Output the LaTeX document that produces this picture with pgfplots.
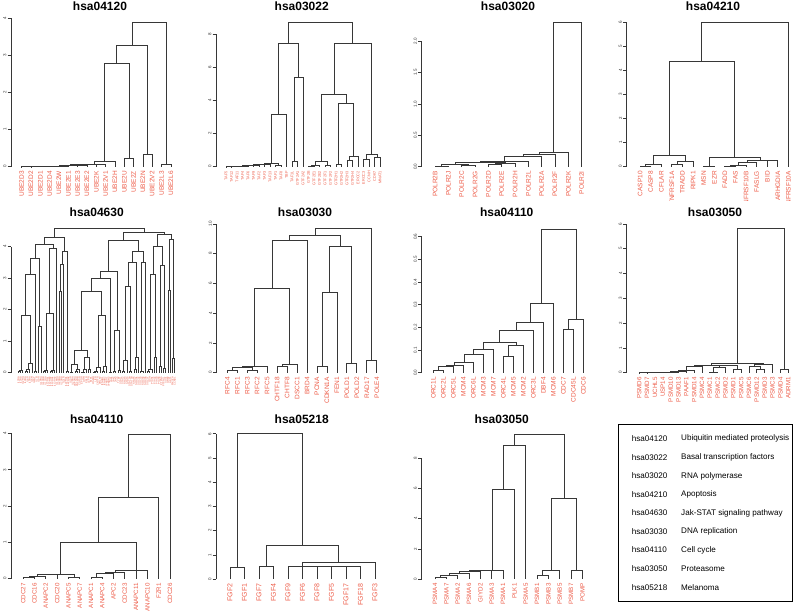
\documentclass[border=0pt]{standalone}
\usepackage{fontspec}
\setmainfont{Liberation Sans}
\usepackage{pgfplots}
\pgfplotsset{compat=1.18}
\definecolor{labred}{RGB}{238,92,72}
\definecolor{dgray}{RGB}{55,55,55}
\newcommand{\U}[5]{\addplot[dline] coordinates {(#1,#2) (#1,#5) (#3,#5) (#3,#4)};}
\pgfplotsset{
  dline/.style={draw=dgray, line width=0.8pt, no marks},
  dendro/.style={
    anchor=south west,
    axis lines*=left,
    x axis line style={draw=none},
    y axis line style={draw=dgray, line width=0.6pt},
    xtick style={draw=none},
    ytick style={draw=dgray, line width=0.6pt},
    tick align=outside,
    major tick length=3.3pt,
    ymin=0, clip=false,
    xticklabel style={rotate=90, anchor=east, text=labred, inner sep=1pt, font=\fontsize{6.5}{7}\selectfont},
    yticklabel style={rotate=90, anchor=south, font=\fontsize{4.5}{5}\selectfont, text=dgray, inner sep=1.2pt},
    /pgf/number format/assume math mode=true,
  },
  dec1/.style={yticklabel style={/pgf/number format/.cd, fixed, fixed zerofill, precision=1}},
}
\newcommand{\ttl}[3]{\node[anchor=base, font=\bfseries\fontsize{12}{14}\selectfont] at (#1pt,#2pt) {#3};}
\begin{document}
\begin{tikzpicture}
\path[use as bounding box] (0pt,0pt) rectangle (799pt,615pt);
\fill[white] (0pt,0pt) rectangle (799pt,615pt);
\clip (0pt,0pt) rectangle (799pt,615pt);
% ---------------- row 1 ----------------
\begin{scope}
\clip (0pt,414.5pt) rectangle (799pt,615pt);
% hsa04120
\begin{axis}[dendro, at={(11pt,448.3pt)}, x=9.33pt, y=37.1pt, xmin=-1.14, xmax=16.5, ymax=4,
  ytick={0,1,2,3,4}, xtick={0,...,16},
  xticklabels={UBE2D3,UBE2D2,UBE2D1,UBE2D4,UBE2W,UBE2E1,UBE2E3,UBE2E2,UBE2K,UBE2V1,UBE2H,UBE2U,UBE2Z,UBE2N,UBE2V2,UBE2L3,UBE2L6}]
\U{0}{0}{1}{0}{0.005}
\U{0.5}{0.005}{2}{0}{0.008}
\U{1.25}{0.008}{3}{0}{0.01}
\U{2.125}{0.01}{4}{0}{0.012}
\U{3.06}{0.012}{5}{0}{0.02}
\U{6}{0}{7}{0}{0.03}
\U{4.03}{0.02}{6.5}{0.03}{0.035}
\U{5.27}{0.035}{8}{0}{0.05}
\U{6.6}{0.05}{9}{0}{0.07}
\U{7.8}{0.07}{10}{0}{0.15}
\U{11}{0}{12}{0}{0.22}
\U{8.9}{0.15}{11.5}{0.22}{2.79}
\U{13}{0}{14}{0}{0.33}
\U{10.2}{2.79}{13.5}{0.33}{3.28}
\U{15}{0}{16}{0}{0.07}
\U{11.85}{3.28}{15.5}{0.07}{3.88}
\end{axis}
% hsa03022
\begin{axis}[dendro, at={(216pt,448.3pt)}, x=5.5pt, y=16.53pt, xmin=-1.82, xmax=28.5, ymax=8,
  ytick={0,2,4,6,8}, xtick={0,...,28},
  xticklabel style={font=\fontsize{3.8}{4}\selectfont},
  xticklabels={TAF5,TAF12,TAF11,TAF4,TAF6,TAF9,TAF2,TAF3,TAF13,TAF1,TAF8,TBP,TAF1L,GTF2A1,GTF2A2,GTF2B,GTF2E1,GTF2E2,GTF2F1,GTF2F2,GTF2H1,GTF2H2,GTF2H3,GTF2H4,ERCC2,ERCC3,CCNH,CDK7,MNAT1}]
\U{0}{0}{1}{0}{0.01}
\U{0.5}{0.01}{2}{0}{0.02}
\U{1.25}{0.02}{3}{0}{0.03}
\U{2.125}{0.03}{4}{0}{0.04}
\U{3.06}{0.04}{5}{0}{0.06}
\U{4.03}{0.06}{6}{0}{0.1}
\U{5.02}{0.1}{7}{0}{0.13}
\U{6.0}{0.13}{8}{0}{0.16}
\U{9}{0}{10}{0}{0.1}
\U{7.0}{0.16}{9.5}{0.1}{0.2}
\U{8.25}{0.2}{11}{0}{3.17}
\U{12}{0}{13}{0}{0.35}
\U{12.5}{0.35}{14}{0}{5.4}
\U{9.6}{3.17}{13.25}{5.4}{7.46}
\U{15}{0}{16}{0}{0.03}
\U{15.5}{0.03}{17}{0}{0.05}
\U{18}{0}{19}{0}{0.1}
\U{16.25}{0.05}{18.5}{0.1}{0.35}
\U{20}{0}{21}{0}{0.14}
\U{22}{0}{23}{0}{0.4}
\U{22.5}{0.4}{24}{0}{0.64}
\U{20.5}{0.14}{23.25}{0.64}{3.81}
\U{17.375}{0.35}{21.875}{3.81}{4.37}
\U{25}{0}{26}{0}{0.46}
\U{27}{0}{28}{0}{0.58}
\U{25.5}{0.46}{27.5}{0.58}{0.75}
\U{19.625}{4.37}{26.5}{0.75}{7.46}
\U{11.43}{7.46}{23.06}{7.46}{8.7}
\end{axis}
% hsa03020
\begin{axis}[dendro, dec1, at={(421.7pt,448.3pt)}, x=13.33pt, y=62.8pt, xmin=-1, xmax=11.5, ymax=2,
  ytick={0,0.5,1,1.5,2}, xtick={0,...,11},
  xticklabels={POLR2B,POLR2J,POLR2C,POLR2G,POLR2D,POLR2E,POLR2H,POLR2L,POLR2A,POLR2F,POLR2K,POLR2I}]
\U{0}{0}{1}{0}{0.01}
\U{2}{0}{3}{0}{0.015}
\U{0.5}{0.01}{2.5}{0.015}{0.04}
\U{4}{0}{5}{0}{0.03}
\U{4.5}{0.03}{6}{0}{0.045}
\U{1.5}{0.04}{5.25}{0.045}{0.07}
\U{3.375}{0.07}{7}{0}{0.09}
\U{5.19}{0.09}{8}{0}{0.16}
\U{6.6}{0.16}{9}{0}{0.19}
\U{7.8}{0.19}{10}{0}{0.23}
\U{8.9}{0.23}{11}{0}{2.29}
\end{axis}
% hsa04210
\begin{axis}[dendro, at={(626.7pt,448.3pt)}, x=10.6pt, y=24pt, xmin=-1.26, xmax=14.5, ymax=6,
  ytick={0,...,6}, xtick={0,...,14},
  xticklabels={CASP10,CASP8,CFLAR,TNFRSF1A,TRADD,RIPK1,MSN,EZR,FADD,FAS,TNFRSF10B,FASLG,BID,ARHGDIA,TNFRSF10A}]
\U{0}{0}{1}{0}{0.02}
\U{0.5}{0.02}{2}{0}{0.1}
\U{3}{0}{4}{0}{0.1}
\U{3.5}{0.1}{5}{0}{0.21}
\U{1.25}{0.1}{4.25}{0.21}{0.49}
\U{6}{0}{7}{0}{0.01}
\U{8}{0}{9}{0}{0.02}
\U{8.5}{0.02}{10}{0}{0.05}
\U{9.25}{0.05}{11}{0}{0.17}
\U{12}{0}{13}{0}{0.25}
\U{10.125}{0.17}{12.5}{0.25}{0.28}
\U{6.5}{0.01}{11.31}{0.28}{0.38}
\U{2.75}{0.49}{8.9}{0.38}{4.39}
\U{5.83}{4.39}{14}{0}{6.0}
\end{axis}
\end{scope}
% ---------------- row 2 ----------------
% hsa04630
\begin{axis}[dendro, at={(11pt,242.3pt)}, x=2.267pt, y=31.5pt, xmin=-3.24, xmax=69.5, ymax=4,
  ytick={0,1,2,3,4}, xtick={0,...,69},
  xticklabel style={font=\fontsize{2.6}{3}\selectfont, inner sep=0.5pt},
  xticklabels={IL2RA,IL2RB,IL2RG,IL3RA,IL4R,IL5RA,IL6R,IL6ST,IL7R,IL9R,IL10RA,IL10RB,IL11RA,IL12RB1,IL12RB2,IL13RA1,IL13RA2,IL15RA,IL20RA,IL20RB,IL21R,IL22RA1,IL22RA2,IL23R,IL28RA,CSF2RA,CSF2RB,CSF3R,EPOR,GHR,PRLR,LEPR,MPL,OSMR,LIFR,CNTFR,CRLF2,IFNAR1,IFNAR2,IFNGR1,IFNGR2,JAK1,JAK2,JAK3,TYK2,STAT1,STAT2,STAT3,STAT4,STAT5A,STAT5B,STAT6,SOCS1,SOCS2,SOCS3,SOCS4,SOCS5,SOCS7,CISH,PIAS1,PIAS2,PIAS3,PIAS4,PTPN6,PTPN11,SOS1,GRB2,AKT1,PIK3CA,CCND1}]
\U{0}{0}{1}{0}{0.04}
\U{0.5}{0.04}{2}{0}{0.06}
\U{3}{0}{4}{0}{0.05}
\U{3.5}{0.05}{5}{0}{0.1}
\U{4.25}{0.1}{6}{0}{0.3}
\U{1.25}{0.06}{5.125}{0.3}{1.81}
\U{7}{0}{8}{0}{0.03}
\U{3.19}{1.81}{7.5}{0.03}{3.12}
\U{9}{0}{10}{0}{1.46}
\U{5.34}{3.12}{9.5}{1.46}{3.63}
\U{11}{0}{12}{0}{0.03}
\U{11.5}{0.03}{13}{0}{0.06}
\U{14}{0}{15}{0}{0.04}
\U{14.5}{0.04}{16}{0}{0.08}
\U{12.25}{0.06}{15.25}{0.08}{1.87}
\U{13.75}{1.87}{17}{0}{3.95}
\U{7.42}{3.63}{15.375}{3.95}{4.07}
\U{18}{0}{19}{0}{2.57}
\U{18.5}{2.57}{20}{0}{3.44}
\U{21}{0}{22}{0}{0.03}
\U{19.25}{3.44}{21.5}{0.03}{3.84}
\U{11.4}{4.07}{20.375}{3.84}{4.29}
\U{23}{0}{24}{0}{0.02}
\U{25}{0}{26}{0}{0.05}
\U{25.5}{0.05}{27}{0}{0.1}
\U{23.5}{0.02}{26.25}{0.1}{0.26}
\U{28}{0}{29}{0}{0.02}
\U{28.5}{0.02}{30}{0}{0.1}
\U{31}{0}{32}{0}{0.12}
\U{29.25}{0.1}{31.5}{0.12}{0.5}
\U{24.875}{0.26}{30.375}{0.5}{0.71}
\U{33}{0}{34}{0}{0.02}
\U{33.5}{0.02}{35}{0}{0.05}
\U{34.25}{0.05}{36}{0}{0.16}
\U{37}{0}{38}{0}{0.03}
\U{37.5}{0.03}{39}{0}{0.2}
\U{35.125}{0.16}{38.25}{0.2}{1.83}
\U{27.625}{0.71}{36.69}{1.83}{2.57}
\U{40}{0}{41}{0}{0.02}
\U{32.16}{2.57}{40.5}{0.02}{2.99}
\U{42}{0}{43}{0}{0.04}
\U{44}{0}{45}{0}{0.06}
\U{42.5}{0.04}{44.5}{0.06}{1.35}
\U{36.33}{2.99}{43.5}{1.35}{3.2}
\U{46}{0}{47}{0}{0.05}
\U{46.5}{0.05}{48}{0}{0.4}
\U{49}{0}{50}{0}{0.03}
\U{47.25}{0.4}{49.5}{0.03}{2.73}
\U{51}{0}{52}{0}{0.1}
\U{51.5}{0.1}{53}{0}{0.5}
\U{48.375}{2.73}{52.25}{0.5}{3.49}
\U{54}{0}{55}{0}{0.05}
\U{54.5}{0.05}{56}{0}{3.49}
\U{50.31}{3.49}{55.25}{3.49}{3.84}
\U{39.92}{3.2}{52.78}{3.84}{4.21}
\U{57}{0}{58}{0}{0.03}
\U{57.5}{0.03}{59}{0}{0.1}
\U{60}{0}{61}{0}{0.5}
\U{58.25}{0.1}{60.5}{0.5}{3.12}
\U{62}{0}{63}{0}{0.2}
\U{64}{0}{65}{0}{0.15}
\U{62.5}{0.2}{64.5}{0.15}{3.4}
\U{59.375}{3.12}{63.5}{3.4}{4.0}
\U{66}{0}{67}{0}{2.62}
\U{68}{0}{69}{0}{0.45}
\U{66.5}{2.62}{68.5}{0.45}{4.23}
\U{61.44}{4.0}{67.5}{4.23}{4.39}
\U{46.35}{4.21}{64.47}{4.39}{4.45}
\U{15.89}{4.29}{55.41}{4.45}{4.58}
\end{axis}
% hsa03030
\begin{axis}[dendro, at={(216.7pt,242.3pt)}, x=9.96pt, y=14.87pt, xmin=-1.07, xmax=15.5, ymax=10,
  ytick={0,2,4,6,8,10}, xtick={0,...,15},
  xticklabels={RFC4,RFC1,RFC3,RFC2,RFC5,CHTF18,CHTF8,DSCC1,BRD4,PCNA,CDKN1A,FEN1,POLD1,POLD2,RAD17,POLE4}]
\U{0}{0}{1}{0}{0.13}
\U{2}{0}{3}{0}{0.13}
\U{0.5}{0.13}{2.5}{0.13}{0.34}
\U{1.5}{0.34}{4}{0}{0.4}
\U{5}{0}{6}{0}{0.45}
\U{5.5}{0.45}{7}{0}{0.58}
\U{2.75}{0.4}{6.25}{0.58}{5.67}
\U{4.5}{5.67}{8}{0}{8.88}
\U{9}{0}{10}{0}{0.45}
\U{9.5}{0.45}{11}{0}{5.4}
\U{12}{0}{13}{0}{0.63}
\U{10.25}{5.4}{12.5}{0.63}{8.48}
\U{6.25}{8.88}{11.375}{8.48}{9.2}
\U{14}{0}{15}{0}{0.85}
\U{8.81}{9.2}{14.5}{0.85}{9.7}
\end{axis}
% hsa04110
\begin{axis}[dendro, dec1, at={(421.7pt,242.3pt)}, x=10pt, y=226.7pt, xmin=-1.17, xmax=15.5, ymax=0.6,
  ytick={0,0.1,0.2,0.3,0.4,0.5,0.6}, xtick={0,...,15},
  xticklabels={ORC1L,ORC2L,ORC5L,MCM4,ORC6L,MCM3,MCM7,ORC4L,MCM5,MCM2,ORC3L,DBF4,MCM6,CDC7,CDC45L,CDC6}]
\U{0}{0}{1}{0}{0.01}
\U{0.5}{0.01}{2}{0}{0.026}
\U{1.25}{0.026}{3}{0}{0.03}
\U{2.125}{0.03}{4}{0}{0.046}
\U{3.06}{0.046}{5}{0}{0.08}
\U{4.03}{0.08}{6}{0}{0.104}
\U{7}{0}{8}{0}{0.073}
\U{7.5}{0.073}{9}{0}{0.12}
\U{5.02}{0.104}{8.25}{0.12}{0.132}
\U{6.6}{0.132}{10}{0}{0.187}
\U{8.3}{0.187}{11}{0}{0.22}
\U{9.65}{0.22}{12}{0}{0.305}
\U{13}{0}{14}{0}{0.19}
\U{13.5}{0.19}{15}{0}{0.235}
\U{10.8}{0.305}{14.25}{0.235}{0.634}
\end{axis}
% hsa03050
\begin{axis}[dendro, at={(626.7pt,242.3pt)}, x=7.84pt, y=24.8pt, xmin=-1.6, xmax=19.5, ymax=6,
  ytick={0,...,6}, xtick={0,...,19},
  xticklabel style={font=\fontsize{6.2}{7}\selectfont},
  xticklabels={PSMD6,PSMD7,UCHL5,USP14,PSMD10,PSMD13,PAAF1,PSMD14,PSMC4,PSMC1,PSMC2,PSMD2,PSMD1,PSMC5,PSMC6,PSMD12,PSMD3,PSMC3,PSMD4,ADRM1}]
\U{0}{0}{1}{0}{0.005}
\U{0.5}{0.005}{2}{0}{0.008}
\U{1.25}{0.008}{3}{0}{0.01}
\U{2.125}{0.01}{4}{0}{0.012}
\U{3.06}{0.012}{5}{0}{0.015}
\U{4.03}{0.015}{6}{0}{0.05}
\U{5.02}{0.05}{7}{0}{0.1}
\U{6.01}{0.1}{8}{0}{0.25}
\U{9}{0}{10}{0}{0.03}
\U{9.5}{0.03}{11}{0}{0.2}
\U{12}{0}{13}{0}{0.15}
\U{10.25}{0.2}{12.5}{0.15}{0.28}
\U{7.0}{0.25}{11.375}{0.28}{0.3}
\U{15}{0}{16}{0}{0.12}
\U{14}{0}{15.5}{0.12}{0.25}
\U{14.75}{0.25}{17}{0}{0.35}
\U{9.19}{0.3}{15.875}{0.35}{0.38}
\U{18}{0}{19}{0}{0.13}
\U{12.53}{0.38}{18.5}{0.13}{5.83}
\end{axis}
% ---------------- row 3 ----------------
% hsa04110 (APC/C)
\begin{axis}[dendro, at={(11pt,36.3pt)}, x=11.28pt, y=36.3pt, xmin=-1.09, xmax=13.5, ymax=4,
  ytick={0,1,2,3,4}, xtick={0,...,13},
  xticklabel style={font=\fontsize{6.2}{7}\selectfont},
  xticklabels={CDC27,CDC16,ANAPC2,CDC20,ANAPC5,ANAPC7,ANAPC1,ANAPC4,APC2,CDC23,ANAPC11,ANAPC10,FZR1,CDC26}]
\U{0}{0}{1}{0}{0.03}
\U{0.5}{0.03}{2}{0}{0.065}
\U{1.25}{0.065}{3}{0}{0.12}
\U{4}{0}{5}{0}{0.04}
\U{2.125}{0.12}{4.5}{0.04}{0.13}
\U{6}{0}{7}{0}{0.04}
\U{6.5}{0.04}{8}{0}{0.15}
\U{7.25}{0.15}{9}{0}{0.17}
\U{8.125}{0.17}{10}{0}{0.22}
\U{9.06}{0.22}{11}{0}{0.24}
\U{3.31}{0.13}{10.03}{0.24}{0.99}
\U{6.67}{0.99}{12}{0}{2.25}
\U{9.33}{2.25}{13}{0}{3.97}
\end{axis}
% hsa05218
\begin{axis}[dendro, at={(216pt,36pt)}, x=14.5pt, y=24.2pt, xmin=-0.97, xmax=10.5, ymax=6,
  ytick={0,...,6}, xtick={0,...,10},
  xticklabel style={font=\fontsize{7}{8}\selectfont},
  xticklabels={FGF2,FGF1,FGF7,FGF4,FGF9,FGF6,FGF8,FGF5,FGF17,FGF18,FGF3}]
\U{0}{0}{1}{0}{0.48}
\U{2}{0}{3}{0}{0.52}
\U{4}{0}{5}{0}{0.52}
\U{5}{0}{6}{0}{0.52}
\U{6}{0}{7}{0}{0.52}
\U{7}{0}{8}{0}{0.52}
\U{8}{0}{9}{0}{0.52}
\U{5}{0.52}{10}{0}{0.68}
\U{2.5}{0.52}{7.5}{0.68}{1.4}
\U{0.5}{0.48}{5.0}{1.4}{6.0}
\end{axis}
% hsa03050 (2)
\begin{axis}[dendro, at={(421.7pt,36pt)}, x=11.33pt, y=15.08pt, xmin=-1.18, xmax=13.5, ymax=8,
  ytick={0,2,4,6,8}, xtick={0,...,13},
  xticklabel style={font=\fontsize{6.2}{7}\selectfont},
  xticklabels={PSMA4,PSMA7,PSMA2,PSMA6,GIYD2,PSMA3,PSMA1,PLK1,PSMA5,PSMB1,PSMB3,PSMB5,PSMB7,POMP}]
\U{0}{0}{1}{0}{0.11}
\U{0.5}{0.11}{2}{0}{0.22}
\U{1.25}{0.22}{3}{0}{0.38}
\U{2.125}{0.38}{4}{0}{0.49}
\U{3.06}{0.49}{5}{0}{0.55}
\U{4.03}{0.55}{6}{0}{0.57}
\U{5.02}{0.57}{7}{0}{5.94}
\U{6.01}{5.94}{8}{0}{8.88}
\U{9}{0}{10}{0}{0.27}
\U{9.5}{0.27}{11}{0}{0.6}
\U{12}{0}{13}{0}{0.6}
\U{10.25}{0.6}{12.5}{0.6}{5.35}
\U{7.0}{8.88}{11.375}{5.35}{9.59}
\end{axis}
% ---------------- titles ----------------
\ttl{100}{604.3}{hsa04120}
\ttl{301.7}{604.3}{hsa03022}
\ttl{508}{604.3}{hsa03020}
\ttl{713}{604.3}{hsa04210}
\ttl{96.7}{398.3}{hsa04630}
\ttl{305}{398.3}{hsa03030}
\ttl{506.7}{398.3}{hsa04110}
\ttl{715}{398.3}{hsa03050}
\ttl{96.7}{191.7}{hsa04110}
\ttl{301.7}{191.7}{hsa05218}
\ttl{501.7}{191.7}{hsa03050}
% ---------------- key box ----------------
\draw[black, line width=0.7pt] (618.3pt,14pt) rectangle (792.7pt,190.7pt);
\begin{scope}[every node/.style={anchor=west, inner sep=0pt, font=\fontsize{8.1}{10}\selectfont}]
\node at (631.7pt,176.7pt) {hsa04120}; \node at (681pt,176.7pt) {Ubiquitin mediated proteolysis};
\node at (631.7pt,157.7pt) {hsa03022}; \node at (681pt,157.7pt) {Basal transcription factors};
\node at (631.7pt,139pt) {hsa03020};   \node at (681pt,139pt) {RNA polymerase};
\node at (631.7pt,120.7pt) {hsa04210}; \node at (681pt,120.7pt) {Apoptosis};
\node at (631.7pt,102pt) {hsa04630};   \node at (681pt,102pt) {Jak-STAT signaling pathway};
\node at (631.7pt,83.3pt) {hsa03030};  \node at (681pt,83.3pt) {DNA replication};
\node at (631.7pt,65pt) {hsa04110};    \node at (681pt,65pt) {Cell cycle};
\node at (631.7pt,46.3pt) {hsa03050};  \node at (681pt,46.3pt) {Proteasome};
\node at (631.7pt,27.7pt) {hsa05218};  \node at (681pt,27.7pt) {Melanoma};
\end{scope}
\end{tikzpicture}
\end{document}
